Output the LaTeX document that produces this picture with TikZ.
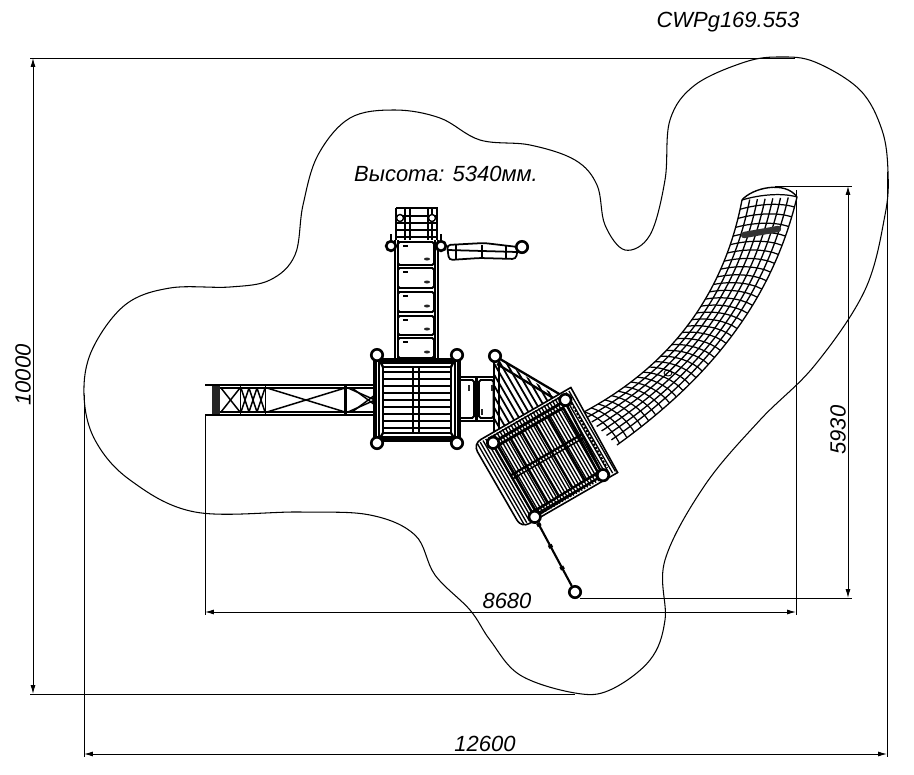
\documentclass[tikz,border=0pt]{standalone}
\usepackage{fontspec}
\setmainfont{Liberation Sans}
\usetikzlibrary{arrows.meta,calc}

\begin{document}
\begin{tikzpicture}
          [x=0.02cm,y=-0.02cm,line width=0.55pt,
           dim/.style={line width=0.55pt,{Latex[length=5pt,width=2.8pt]}-{Latex[length=5pt,width=2.8pt]}},
           ext/.style={line width=0.55pt},
           label text/.style={font=\fontsize{12.5}{15}\itshape\selectfont,inner sep=0pt},
           post/.style={draw,shape=circle,fill=white,line width=1.5pt,inner sep=0pt,minimum size=6.5pt},
           stud/.style={draw,shape=circle,fill=white,line width=0.8pt,inner sep=0pt,minimum size=4pt},
           rail/.style={line width=1.3pt},
           slat/.style={line width=0.85pt},
           panel/.style={draw,line width=1.1pt,fill=white,rounded corners=1pt}]
          \useasboundingbox (0,0) rectangle (914,775);

          % safety zone
          \draw[line width=0.6pt] plot[smooth cycle,tension=0.6] coordinates {
            (84,395) (92,350) (125,305) (170,288) (230,287) (270,280) (295,255)
            (303,205) (318,155) (350,118) (395,110) (440,118) (480,140) (530,145)
            (575,160) (597,185) (605,225) (625,250) (650,235) (665,180) (670,120)
            (695,85) (745,62) (780,57) (815,62) (860,90) (882,130) (888,172) (885,215) (865,290)
            (815,365) (760,420) (705,485) (665,560) (665,620) (650,660) (610,690)
            (575,693) (520,675) (490,640) (470,610) (435,575) (415,535) (370,515)
            (300,512) (195,512) (130,480) (95,440)};

          % dimensions
          \coordinate (topL) at (30,58);
          \coordinate (topR) at (795,58);
          \coordinate (botL) at (30,694);
          \coordinate (botR) at (575,694);
          \coordinate (hA) at (33,58);
          \coordinate (hB) at (33,694);
          \coordinate (wL) at (84,395);
          \coordinate (wLe) at (84,757);
          \coordinate (wR) at (887,172);
          \coordinate (wRe) at (887,757);
          \coordinate (wA) at (84,754);
          \coordinate (wB) at (887,754);
          \coordinate (lL) at (205,415);
          \coordinate (lLe) at (205,615);
          \coordinate (lR) at (796,190);
          \coordinate (lRe) at (796,615);
          \coordinate (lA) at (205,612);
          \coordinate (lB) at (796,612);
          \coordinate (dT) at (775,186);
          \coordinate (dTe) at (852,186);
          \coordinate (dB) at (580,598);
          \coordinate (dBe) at (852,598);
          \coordinate (dA) at (848,186);
          \coordinate (dC) at (848,598);

          \draw[ext] (topL) -- (topR);
          \draw[ext] (botL) -- (botR);
          \draw[ext] (wL) -- (wLe);
          \draw[ext] (wR) -- (wRe);
          \draw[ext] (lL) -- (lLe);
          \draw[ext] (lR) -- (lRe);
          \draw[ext] (dT) -- (dTe);
          \draw[ext] (dB) -- (dBe);
          \draw[dim] (hA) -- (hB);
          \draw[dim] (wA) -- (wB);
          \draw[dim] (lA) -- (lB);
          \draw[dim] (dA) -- (dC);

          \node[label text] (code) at (728,22) {CWPg169.553};
          \node[label text] (height) at (446,174) {Высота: 5340мм.};
          \node[label text,rotate=90] (dim10000) at (23,375) {10000};
          \node[label text] (dim12600) at (485,744) {12600};
          \node[label text] (dim8680) at (507,601) {8680};
          \node[label text,rotate=90] (dim5930) at (838,430) {5930};

          % slide
          \foreach \s in {0,0.14,0.28,0.42,0.56,0.7,0.84,1} {
            \draw[line width=0.75pt] ($(742,200)!\s!(797,197)$)
              .. controls ($(722,305)!\s!(770,310)$) and ($(660,372)!\s!(700,385)$)
              .. ($(582,413)!\s!(617,445)$);
          }
          \foreach \t in {0,0.03,...,0.99} {
            \pgfmathsetmacro\lx{(1-\t)^3*742+3*(1-\t)^2*\t*722+3*(1-\t)*\t^2*660+\t^3*582}
            \pgfmathsetmacro\ly{(1-\t)^3*200+3*(1-\t)^2*\t*305+3*(1-\t)*\t^2*372+\t^3*413}
            \pgfmathsetmacro\rx{(1-\t)^3*797+3*(1-\t)^2*\t*770+3*(1-\t)*\t^2*700+\t^3*617}
            \pgfmathsetmacro\ry{(1-\t)^3*197+3*(1-\t)^2*\t*310+3*(1-\t)*\t^2*385+\t^3*445}
            \draw[line width=0.7pt] (\lx,\ly) .. controls ($(\lx,\ly)!0.3!(\rx,\ry)+(3,-5)$) and ($(\lx,\ly)!0.7!(\rx,\ry)+(3,-5)$) .. (\rx,\ry);
          }
          \draw[line width=0.8pt] (742,200) .. controls (752,188) and (785,180) .. (797,197);
          \draw[line width=3.6pt,black!80,line cap=round] (744,235) -- (778,229);
          \draw[line width=0.5pt] (668,373) ellipse (4 and 3);

          % ramp from the tower
          \begin{scope}[shift={(473,444)},rotate=30]
            \clip (63,-65) -- (100,8) -- (18,9) -- cycle;
            \foreach \u in {20,25.5,...,100} {
              \draw[line width=1pt] (\u,-72) -- (\u,12);
            }
          \end{scope}
          \draw[rail] (494,356) -- (494,443);
          \draw[rail] (499,362) -- (499,440);
          \draw[rail] (495,356) -- (566,398);
          \draw[rail] (497,364) -- (560,402);

          % deck
          \begin{scope}[shift={(473,444)},rotate=30]
            \draw[fill=white,line width=0.9pt] (0,50) [rounded corners=5pt] -- (0,0) -- (30,0) [sharp corners] -- (113,0) -- (111,97) -- (30,97) [rounded corners=5pt] -- (0,97) -- cycle;
            \foreach \u in {4,7.2,...,110} {
              \draw[line width=0.75pt] (\u,2) -- (\u,95);
            }
            \foreach \v in {3,8,13,88,92} {
              \draw[line width=0.8pt] (18,\v) -- (100,\v);
            }
            \draw[rail] (17,9) -- (101,9) -- (97,92) -- (17,94) -- cycle;
            \draw[rail] (21,14) -- (96,14) -- (94,87) -- (21,89) -- cycle;
            \foreach \u in {35,48,64,79} {
              \draw[line width=1.1pt] (\u,14) -- (\u,88);
            }
            \draw[rail] (17,46) -- (99,46);
            \draw[slat] (17,50) -- (99,50);
            \draw[line width=1.2pt,densely dotted] (106,6) -- (104,88);
            \node[post] (deckA) at (18,9) {};
            \node[post] (deckB) at (102,8) {};
            \node[post] (deckC) at (97,92) {};
            \node[post] (deckD) at (17,94) {};
          \end{scope}
          \node[post] (rampT) at (495,356) {};

          % anchor rope
          \node[post] (ring) at (575,592) {};
          \draw[line width=1.2pt] (deckD) -- (ring);
          \draw[line width=2.4pt,dash pattern=on 2pt off 12pt] (deckD) -- (ring);

          % bridge to the deck
          \draw[rail] (456,377) -- (494,377);
          \draw[rail] (456,421) -- (494,421);
          \foreach \a/\b in {456/474,479/493.5} {
            \draw[panel] (\a,380) rectangle (\b,418);
          }
          \draw[line width=2pt] (476.5,377) -- (476.5,421);
          \foreach \a/\b in {469/388,492/388,460/412,482/412} {
            \fill[black!85] (\a-1,\b-3) rectangle (\a+1,\b+3);
          }

          % climber
          \draw[rail] (396,208) -- (437,208) -- (437,240);
          \draw[rail] (396,208) -- (396,240);
          \foreach \y in {216,223,230,237} {
            \draw[rail] (396,\y) -- (437,\y);
          }
          \foreach \x in {405,410,428,432} {
            \draw[line width=0.8pt] (\x,208) -- (\x,240);
          }
          \node[stud] (climbA) at (400,218) {};
          \node[stud] (climbB) at (432,218) {};

          % steps
          \draw[line width=1.7pt] (395,240) -- (395,362);
          \draw[line width=1.7pt] (398,240) -- (398,362);
          \draw[line width=1.7pt] (435,240) -- (435,362);
          \draw[line width=1.7pt] (438,240) -- (438,362);
          \foreach \a/\b in {242/265,268/288,292/312,316/335,338/358} {
            \draw[panel] (398,\a) rectangle (434,\b);
            \draw[line width=0.8pt] (403,\a+4) -- (408,\a+4);
            \fill[black!85] (427,\b-6) ellipse (3 and 1.5);
          }
          \node[post,minimum size=5.5pt] (stepL) at (391,246) {};
          \node[post,minimum size=5.5pt] (stepR) at (441,246) {};
          \draw[line width=0.8pt] (391,234) -- (stepL);
          \draw[line width=0.8pt] (441,234) -- (stepR);

          % side bar
          \draw[line width=1pt,rounded corners=2pt,fill=white] (447,245) -- (484,243) -- (518,247) -- (516,259) -- (480,258) -- (449,260) -- cycle;
          \draw[line width=1pt] (448,250) -- (517,252);
          \foreach \x in {456,482,506} {
            \draw[line width=1.2pt] (\x,245) -- (\x,259);
          }
          \node[post] (barEnd) at (522,247) {};

          % platform
          \draw[fill=white,line width=1.8pt] (375,360) rectangle (459,440);
          \draw[line width=1.4pt] (379,363) rectangle (455,437);
          \draw[line width=1.1pt] (383,367) rectangle (451,433);
          \foreach \y in {372,379,...,428} {
            \draw[slat] (382,\y) -- (452,\y);
          }
          \draw[line width=1pt] (413,367) -- (413,433);
          \draw[line width=1pt] (419,367) -- (419,433);
          \node[post] (platA) at (377,355) {};
          \node[post] (platB) at (457,355) {};
          \node[post] (platC) at (377,443) {};
          \node[post] (platD) at (457,443) {};
          \draw[rail] (platA) -- (383,367);
          \draw[rail] (platB) -- (451,367);
          \draw[rail] (platC) -- (383,433);
          \draw[rail] (platD) -- (451,433);

          % tunnel
          \draw[line width=1pt] (205,385) -- (375,385);
          \draw[line width=0.8pt] (212,388) -- (375,388);
          \draw[line width=0.8pt] (212,412) -- (375,412);
          \draw[line width=1pt] (205,415) -- (375,415);
          \fill[black!85] (212,386) rectangle (220,414);
          \draw[slat] (221,388) -- (240,412);
          \draw[slat] (221,412) -- (240,388);
          \foreach \x in {241,249,257} {
            \draw[slat] (\x,388) -- (\x+8,412);
            \draw[slat] (\x,412) -- (\x+8,388);
          }
          \draw[line width=1pt] (240.5,386) -- (240.5,414);
          \draw[line width=1pt] (265.5,386) -- (265.5,414);
          \draw[slat] (267,412) -- (345,388);
          \draw[slat] (267,388) -- (345,412);
          \draw[line width=1.2pt] (345.5,386) -- (345.5,414);
          \draw[slat] (348,388) -- (375,400) -- (348,412);
          \draw[slat] (352,388) -- (375,405);
          \draw[slat] (352,412) -- (375,395);
        \end{tikzpicture}
\end{document}
